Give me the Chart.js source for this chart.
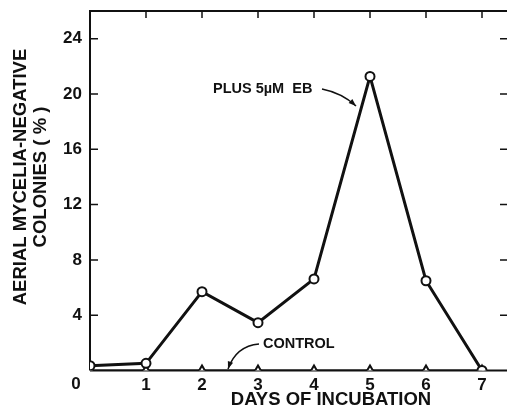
<!DOCTYPE html>
<html>
<head>
<meta charset="utf-8">
<script src="https://cdn.jsdelivr.net/npm/chart.js@4/dist/chart.umd.min.js"></script>
<style>
  html, body { margin: 0; padding: 0; background: #fff; overflow: hidden; }
  #wrap { width: 520px; height: 409px; position: relative; }
</style>
</head>
<body>
<div id="wrap"><canvas id="chart"></canvas></div>
<script>
const days = [0, 1, 2, 3, 4, 5, 6, 7];
const ebValues = [0.35, 0.52, 5.7, 3.46, 6.62, 21.27, 6.49, 0];
const controlValues = [0, 0, 0, 0, 0, 0, 0, 0];
const yTicks = [0, 4, 8, 12, 16, 20, 24];

const FONT = '"Liberation Sans", Arial, sans-serif';

// frame, inward ticks, titles and the two labelled arrows
const framePlugin = {
    id: 'frame',
    beforeDatasetsDraw(chart) {
        const { ctx, chartArea: a, scales: { x, y } } = chart;
        ctx.save();
        ctx.strokeStyle = '#111';
        ctx.lineWidth = 2;
        ctx.beginPath();
        ctx.moveTo(a.left, a.bottom);
        ctx.lineTo(a.left, a.top);
        ctx.lineTo(a.right, a.top);
        ctx.lineTo(a.right, a.bottom);
        ctx.moveTo(a.left, a.bottom);
        ctx.lineTo(a.right, a.bottom);
        ctx.stroke();

        ctx.lineWidth = 1.5;
        ctx.beginPath();
        x.ticks.forEach(t => {
            const px = x.getPixelForValue(t.value);
            ctx.moveTo(px, a.top);
            ctx.lineTo(px, a.top + 7);
        });
        y.ticks.forEach(t => {
            if (t.value === 0) return;
            const py = y.getPixelForValue(t.value);
            ctx.moveTo(a.left, py);
            ctx.lineTo(a.left + 8, py);
            ctx.moveTo(a.right, py);
            ctx.lineTo(a.right - 10, py);
        });
        ctx.stroke();
        ctx.restore();
    },
    afterDraw(chart) {
        const { ctx } = chart;
        ctx.save();
        ctx.fillStyle = '#111';
        ctx.strokeStyle = '#111';
        ctx.textAlign = 'center';
        ctx.textBaseline = 'middle';

        ctx.font = 'bold 17px ' + FONT;
        ctx.fillText('0', 76, 384);

        ctx.font = 'bold 18.5px ' + FONT;
        ctx.fillText('DAYS OF INCUBATION', 331, 400);

        ctx.save();
        ctx.translate(21, 177);
        ctx.rotate(-Math.PI / 2);
        ctx.fillText('AERIAL MYCELIA-NEGATIVE', 0, 0);
        ctx.restore();
        ctx.save();
        ctx.translate(41, 177);
        ctx.rotate(-Math.PI / 2);
        ctx.fillText('COLONIES ( % )', 0, 0);
        ctx.restore();

        ctx.textAlign = 'left';
        ctx.font = 'bold 14.5px ' + FONT;
        ctx.fillText('PLUS 5\u00b5M  EB', 213, 89);
        ctx.fillText('CONTROL', 263, 344);

        drawArrow(ctx, 322, 89, 342, 93, 356, 106);
        drawArrow(ctx, 259, 344, 236, 346, 228, 369);
        ctx.restore();
    }
};

function drawArrow(ctx, x0, y0, cx, cy, x1, y1) {
    ctx.lineWidth = 1.5;
    ctx.beginPath();
    ctx.moveTo(x0, y0);
    ctx.quadraticCurveTo(cx, cy, x1, y1);
    ctx.stroke();
    const ang = Math.atan2(y1 - cy, x1 - cx);
    ctx.beginPath();
    ctx.moveTo(x1, y1);
    ctx.lineTo(x1 - 8 * Math.cos(ang - 0.35), y1 - 8 * Math.sin(ang - 0.35));
    ctx.lineTo(x1 - 8 * Math.cos(ang + 0.35), y1 - 8 * Math.sin(ang + 0.35));
    ctx.closePath();
    ctx.fill();
}

new Chart(document.getElementById('chart'), {
    type: 'line',
    data: {
        datasets: [{
            label: 'Plus 5\u00b5M EB',
            data: days.map((d, i) => ({ x: d, y: ebValues[i] })),
            borderColor: '#111',
            borderWidth: 3,
            pointStyle: 'circle',
            pointRadius: 4.5,
            pointBorderWidth: 2,
            pointBackgroundColor: '#fff',
            pointBorderColor: '#111',
            tension: 0
        }, {
            label: 'Control',
            data: days.map((d, i) => ({ x: d, y: controlValues[i] })),
            borderColor: '#111',
            borderWidth: 2,
            pointStyle: 'triangle',
            pointRadius: 5,
            pointBorderWidth: 2,
            pointBackgroundColor: '#fff',
            pointBorderColor: '#111',
            tension: 0,
            order: 1
        }]
    },
    options: {
        responsive: true,
        maintainAspectRatio: false,
        animation: false,
        layout: { padding: { top: 11, right: 10, left: 0, bottom: 0 } },
        plugins: {
            legend: { display: false },
            tooltip: { enabled: false }
        },
        scales: {
            x: {
                type: 'linear',
                min: 0,
                max: 7.5,
                afterBuildTicks: s => { s.ticks = days.map(v => ({ value: v })); },
                afterFit: s => {
                    s.height = 38.5;
                    s.paddingLeft = 0;
                    s.paddingRight = 0;
                },
                grid: { display: false, drawTicks: false },
                border: { display: false },
                ticks: {
                    padding: 5,
                    color: '#111',
                    font: { family: FONT, size: 17, weight: 'bold' },
                    callback: v => (v === 0 ? '' : v)
                }
            },
            y: {
                min: 0,
                max: 26,
                afterBuildTicks: s => { s.ticks = yTicks.map(v => ({ value: v })); },
                afterFit: s => {
                    s.width = 90;
                    s.paddingTop = 0;
                    s.paddingBottom = 0;
                },
                grid: { display: false, drawTicks: false },
                border: { display: false },
                ticks: {
                    padding: 8,
                    color: '#111',
                    font: { family: FONT, size: 17, weight: 'bold' },
                    callback: v => (v === 0 ? '' : v)
                }
            }
        }
    },
    plugins: [framePlugin]
});
</script>
</body>
</html>
